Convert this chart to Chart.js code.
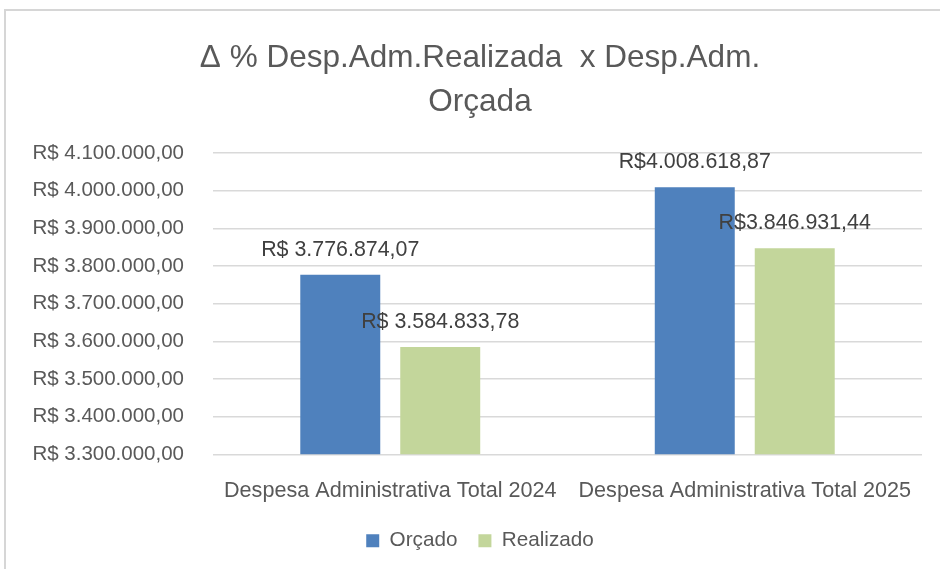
<!DOCTYPE html>
<html>
<head>
<meta charset="utf-8">
<script src="https://cdn.jsdelivr.net/npm/chart.js@4.4.1/dist/chart.umd.min.js"></script>
<style>
  html, body { margin: 0; padding: 0; background: #fff; overflow: hidden; }
  #frame {
    position: absolute; left: 4px; top: 9px; width: 950px; height: 580px;
    border-top: 2px solid #d6d6d6; border-left: 2px solid #d6d6d6;
  }
  #wrap { position: absolute; left: 0; top: 0; width: 940px; height: 569px; }
</style>
</head>
<body>
<div id="frame"></div>
<div id="wrap"><canvas id="chartDesp" width="940" height="569"></canvas></div>
<script>
const categories = ["Despesa Administrativa Total 2024", "Despesa Administrativa Total 2025"];
const orcado = [3776874.07, 4008618.87];
const realizado = [3584833.78, 3846931.44];
const orcadoLabels = ["R$ 3.776.874,07", "R$4.008.618,87"];
const realizadoLabels = ["R$ 3.584.833,78", "R$3.846.931,44"];
const titleLines = ["Δ % Desp.Adm.Realizada  x Desp.Adm.", "Orçada"];

const FONT = "'Liberation Sans', Arial, sans-serif";
const textGray = "#595959";

function formatBRL(v) {
    const s = v.toFixed(2).split(".");
    return "R$ " + s[0].replace(/\B(?=(\d{3})+(?!\d))/g, ".") + "," + s[1];
}

// rotulos de dados acima de cada barra
const barLabels = {
    id: "barLabels",
    afterDatasetsDraw(chart) {
        const ctx = chart.ctx;
        ctx.save();
        ctx.font = "21.4px " + FONT;
        ctx.fillStyle = "#404040";
        ctx.textAlign = "center";
        ctx.textBaseline = "middle";
        chart.data.datasets.forEach((ds, i) => {
            chart.getDatasetMeta(i).data.forEach((bar, j) => {
                ctx.fillText(ds.valueLabels[j], bar.x, bar.y - 25);
            });
        });
        ctx.restore();
    }
};

const ctx = document.getElementById("chartDesp").getContext("2d");

new Chart(ctx, {
    type: "bar",
    data: {
        labels: categories,
        datasets: [{
            label: "Orçado",
            data: orcado,
            valueLabels: orcadoLabels,
            backgroundColor: "#4F81BD"
        }, {
            label: "Realizado",
            data: realizado,
            valueLabels: realizadoLabels,
            backgroundColor: "#C3D69B"
        }]
    },
    options: {
        responsive: false,
        animation: false,
        categoryPercentage: 0.564,
        barPercentage: 0.8,
        layout: { padding: { left: 38, right: 18, top: 14, bottom: 8 } },
        scales: {
            x: {
                grid: { display: false, drawTicks: false },
                border: { display: false },
                ticks: { padding: 24, color: textGray, font: { family: FONT, size: 21.6 } },
                afterFit: (s) => { s.height = 55; }
            },
            y: {
                min: 3300000,
                max: 4100000,
                ticks: {
                    stepSize: 100000,
                    padding: 29,
                    color: textGray,
                    font: { family: FONT, size: 20.5 },
                    callback: (v) => formatBRL(v)
                },
                grid: { color: "#d9d9d9", lineWidth: 1.5, drawTicks: false },
                border: { display: false },
                afterFit: (s) => {
                    s.width = 175;
                    // rotulos passam da borda esquerda do eixo, sem corte
                    s._computeLabelArea = () => undefined;
                }
            }
        },
        plugins: {
            title: {
                display: true,
                text: titleLines,
                color: textGray,
                font: { family: FONT, size: 31.5, weight: "normal", lineHeight: 1.38 },
                padding: { top: 23, bottom: 29 }
            },
            legend: {
                position: "bottom",
                labels: {
                    boxWidth: 13,
                    boxHeight: 13,
                    padding: 21,
                    color: textGray,
                    font: { family: FONT, size: 20.7 }
                }
            },
            tooltip: { enabled: false }
        }
    },
    plugins: [barLabels]
});
</script>
</body>
</html>
